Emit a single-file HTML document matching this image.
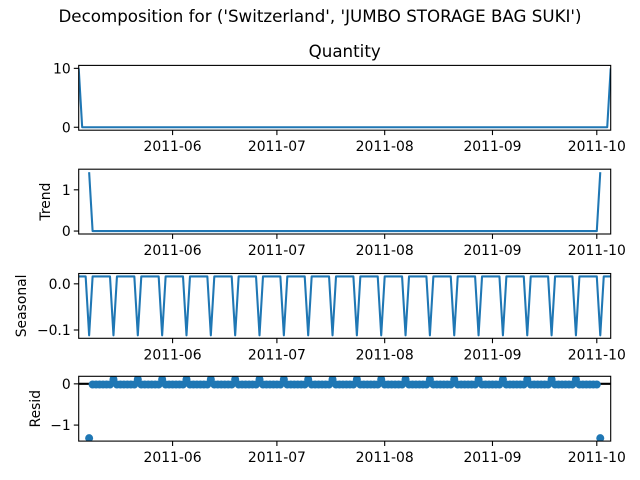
<!DOCTYPE html>
<html><head><meta charset="utf-8"><style>
html,body{margin:0;padding:0;background:#fff;}
svg{display:block;font-family:"DejaVu Sans","Liberation Sans",sans-serif;}
</style></head><body>
<svg id="chart" width="640" height="480" viewBox="0 0 640 480">
<text x="320" y="22" text-anchor="middle" font-size="16.7">Decomposition for ('Switzerland', 'JUMBO STORAGE BAG SUKI')</text>
<text x="344.7" y="57" text-anchor="middle" font-size="16.7">Quantity</text>
</svg>
<script>
// ---- data ----
const startDate = "2011-05-05";
const nDays = 154;
const spikeIdx = [0, 153];
const spikeValue = 10;
const seasonalPattern = [0.016, 0.016, 0.016, -0.1116, 0.016, 0.016, 0.016];
const monthTicks = ["2011-06", "2011-07", "2011-08", "2011-09", "2011-10"];
const monthTickDays = [27, 57, 88, 119, 149];
const qTicks = [0, 10];
const trendTicks = [0, 1];
const seasTicks = [0.0, -0.1];
const seasTickLabels = ["0.0", "−0.1"];
const residTicks = [0, -1];
const residTickLabels = ["0", "−1"];

// observed series
const observed = [];
for (let i = 0; i < nDays; i++) observed.push(spikeIdx.includes(i) ? spikeValue : 0);
// moving-average trend (period 7), NaN at edges
const trend = observed.map((v, i) => {
  if (i < 3 || i > nDays - 4) return null;
  let s = 0; for (let k = -3; k <= 3; k++) s += observed[i + k]; return s / 7;
});
const seasonal = observed.map((v, i) => seasonalPattern[i % 7]);
const resid = observed.map((v, i) => trend[i] === null ? null : v - trend[i] - seasonal[i]);

const NS = "http://www.w3.org/2000/svg";
const svg = document.getElementById("chart");
const X0 = 78.7, X1 = 610.7;
const xs = d => X0 + d * (X1 - X0) / (nDays - 1);
const COLOR = "#1f77b4";
function mk(tag, attrs, parent) {
  const e = document.createElementNS(NS, tag);
  for (const k in attrs) e.setAttribute(k, attrs[k]);
  (parent || svg).appendChild(e); return e;
}
const panels = [
  {key: "quantity", data: observed, top: 65.4, ticks: qTicks, labels: qTicks.map(String), ylabel: null, lx: 0, kind: "line"},
  {key: "trend", data: trend, top: 169.2, ticks: trendTicks, labels: trendTicks.map(String), ylabel: "Trend", lx: 50, kind: "line"},
  {key: "seasonal", data: seasonal, top: 273.5, ticks: seasTicks, labels: seasTickLabels, ylabel: "Seasonal", lx: 26, kind: "line"},
  {key: "resid", data: resid, top: 376.3, ticks: residTicks, labels: residTickLabels, ylabel: "Resid", lx: 40, kind: "dots"}
];
const H = 64.8;
panels.forEach(p => {
  const g = mk("g", {});
  
  
  const vals = p.data.filter(v => v !== null);
  let lo = Math.min(...vals), hi = Math.max(...vals);
  if (p.kind === "dots") { lo = Math.min(lo, 0); hi = Math.max(hi, 0); }
  const m = (hi - lo) * 0.05; lo -= m; hi += m;
  const ys = v => p.top + H - (v - lo) / (hi - lo) * H;
  const bottom = p.top + H;
  const clipId = "clip-" + p.key;
  const cp = mk("clipPath", {id: clipId}, g);
  mk("rect", {x: X0, y: p.top, width: X1 - X0, height: H}, cp);
  const plot = mk("g", {"clip-path": "url(#" + clipId + ")"}, g);
  if (p.kind === "line") {
    let d = "";
    p.data.forEach((v, i) => { if (v === null) return; d += (d ? "L" : "M") + xs(i).toFixed(2) + "," + ys(v).toFixed(2); });
    const path = mk("path", {d: d, fill: "none", stroke: COLOR, "stroke-width": 2.08, "stroke-linejoin": "round"}, plot);
    
    
  } else {
    const zl = mk("line", {x1: X0, x2: X1, y1: ys(0), y2: ys(0), stroke: "#000", "stroke-width": 2.08}, plot);
    
    
    p.data.forEach((v, i) => {
      if (v === null) return;
      const c = mk("circle", {cx: xs(i), cy: ys(v), r: 4, fill: COLOR}, plot);
      
      
    });
  }
  const frame = mk("rect", {x: X0, y: p.top, width: X1 - X0, height: H, fill: "none", stroke: "#000", "stroke-width": 1.1}, g);
  
  
  // y ticks
  p.ticks.forEach((t, i) => {
    const y = ys(t);
    mk("line", {x1: X0 - 4.9, x2: X0, y1: y, y2: y, stroke: "#000", "stroke-width": 1.1}, g);
    const tx = mk("text", {x: X0 - 8, y: y + 5, "text-anchor": "end", "font-size": 13.9}, g);
    tx.textContent = p.labels[i];
    
    
  });
  // x ticks
  monthTickDays.forEach((d, i) => {
    const x = xs(d);
    mk("line", {x1: x, x2: x, y1: bottom, y2: bottom + 4.9, stroke: "#000", "stroke-width": 1.1}, g);
    const tx = mk("text", {x: x, y: bottom + 21, "text-anchor": "middle", "font-size": 13.9}, g);
    tx.textContent = monthTicks[i];
    
    
  });
  if (p.ylabel) {
    const cy = p.top + H / 2;
    const yl = mk("text", {x: 0, y: 0, transform: "translate(" + p.lx + "," + cy + ") rotate(-90)", "text-anchor": "middle", "font-size": 13.9}, g);
    yl.textContent = p.ylabel;
    
    
  }
});
</script>
</body></html>
